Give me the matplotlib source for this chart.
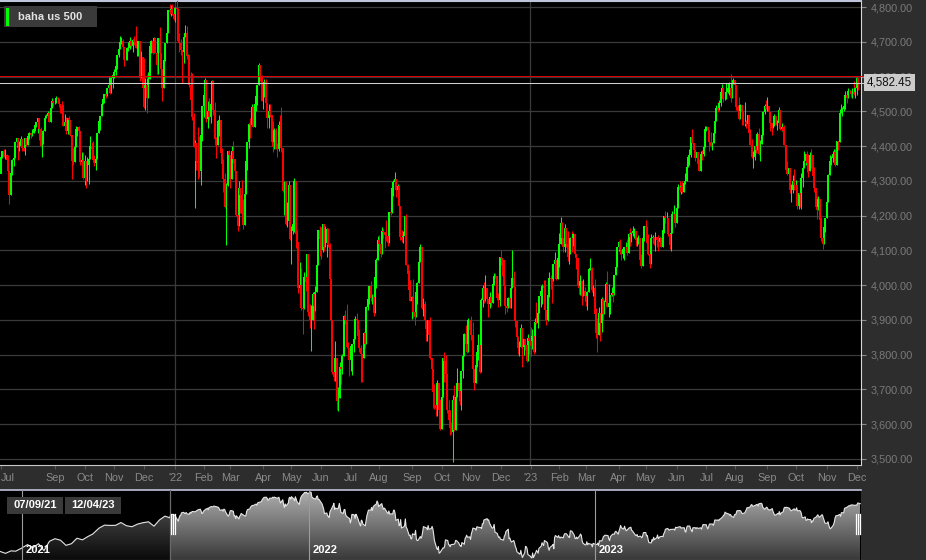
#US 500 daily chart with navigator strip

#Importing the modules to be used
import numpy as np
import pandas as pd
import matplotlib
matplotlib.use('Agg')
import matplotlib.pyplot as plt
import matplotlib.dates as mdates
from matplotlib.patches import Rectangle, Polygon
from matplotlib.lines import Line2D
from matplotlib.colors import LinearSegmentedColormap
from matplotlib.transforms import blended_transform_factory

plt.rcParams['font.family'] = ['Liberation Sans', 'DejaVu Sans']

#Part One: data
title = 'baha us 500'
start_date = '2021-07-09'
end_date = '2023-12-04'
last_price = 4582.45
ref_price = 4602
market_holidays = ['2021-09-06', '2021-11-25', '2021-12-24', '2022-01-17', '2022-02-21',
                   '2022-04-15', '2022-05-30', '2022-06-20', '2022-07-04', '2022-09-05',
                   '2022-11-24', '2022-12-26', '2023-01-02', '2023-01-16', '2023-02-20',
                   '2023-04-07', '2023-05-29', '2023-06-19', '2023-07-04', '2023-09-04',
                   '2023-11-23']

#daily closes, one line per month
close_px = [
    4370, 4385, 4369, 4374, 4360, 4327, 4258, 4323, 4359, 4367, 4412, 4422, 4401, 4401, 4419, 4395,
    4387, 4423, 4403, 4429, 4437, 4432, 4437, 4448, 4461, 4468, 4480, 4448, 4400, 4406, 4442, 4480, 4486, 4496, 4470, 4509, 4529, 4523,
    4524, 4537, 4535, 4520, 4514, 4493, 4459, 4469, 4443, 4481, 4474, 4433, 4358, 4354, 4396, 4449, 4455, 4443, 4353, 4359, 4308,
    4357, 4300, 4346, 4364, 4400, 4391, 4361, 4351, 4364, 4438, 4471, 4486, 4520, 4536, 4550, 4545, 4566, 4575, 4552, 4596, 4605,
    4614, 4631, 4661, 4680, 4698, 4702, 4685, 4647, 4649, 4683, 4683, 4701, 4689, 4705, 4698, 4683, 4691, 4701, 4595, 4655, 4567,
    4513, 4577, 4538, 4592, 4687, 4701, 4667, 4712, 4669, 4634, 4710, 4669, 4621, 4568, 4649, 4697, 4726, 4791, 4786, 4793, 4779, 4766,
    4797, 4794, 4701, 4696, 4677, 4670, 4713, 4726, 4659, 4663, 4577, 4533, 4483, 4398, 4410, 4356, 4350, 4327, 4432, 4516,
    4547, 4589, 4477, 4501, 4484, 4522, 4587, 4504, 4419, 4402, 4471, 4475, 4380, 4349, 4305, 4226, 4289, 4385, 4374,
    4306, 4387, 4363, 4329, 4201, 4171, 4278, 4260, 4204, 4173, 4262, 4358, 4412, 4463, 4461, 4512, 4456, 4520, 4543, 4576, 4632, 4602, 4530,
    4546, 4583, 4525, 4481, 4500, 4488, 4413, 4397, 4447, 4393, 4392, 4462, 4459, 4394, 4272, 4296, 4175, 4184, 4288, 4132,
    4155, 4175, 4300, 4147, 4123, 3991, 4001, 3935, 3930, 4024, 4008, 4089, 3924, 3901, 3901, 3974, 3941, 3979, 4058, 4158, 4132,
    4101, 4177, 4109, 4121, 4161, 4116, 4018, 3901, 3750, 3735, 3790, 3667, 3675, 3765, 3760, 3796, 3912, 3900, 3822, 3819, 3785,
    3825, 3831, 3845, 3903, 3899, 3854, 3819, 3802, 3790, 3863, 3831, 3937, 3960, 3999, 3962, 3967, 3921, 4024, 4072, 4130,
    4119, 4091, 4155, 4152, 4145, 4140, 4122, 4210, 4207, 4280, 4297, 4305, 4274, 4284, 4228, 4138, 4129, 4141, 4199, 4058, 4031, 3986, 3955,
    3967, 3924, 3908, 3980, 4006, 4067, 4110, 3933, 3946, 3901, 3873, 3900, 3856, 3790, 3758, 3693, 3655, 3647, 3719, 3640, 3586,
    3678, 3791, 3783, 3745, 3640, 3612, 3589, 3577, 3670, 3583, 3678, 3720, 3695, 3666, 3753, 3797, 3859, 3831, 3807, 3901, 3872,
    3856, 3760, 3720, 3771, 3807, 3828, 3749, 3956, 3993, 3957, 3992, 3959, 3947, 3965, 3950, 4004, 4027, 4026, 3964, 3958, 4080,
    4077, 4072, 3999, 3941, 3934, 3964, 3934, 3991, 4020, 3995, 3896, 3852, 3818, 3822, 3878, 3822, 3845, 3829, 3783, 3849, 3840,
    3824, 3853, 3808, 3895, 3892, 3919, 3970, 3983, 3999, 3991, 3929, 3899, 3973, 4020, 4017, 4016, 4060, 4071, 4018, 4077,
    4119, 4180, 4136, 4111, 4164, 4118, 4082, 4090, 4137, 4136, 4148, 4090, 4079, 3997, 3991, 4012, 3970, 3982, 3970,
    3951, 3981, 4046, 4048, 3986, 3992, 3918, 3862, 3856, 3919, 3892, 3960, 3917, 3952, 4003, 3937, 3949, 3971, 3978, 3971, 4028, 4051, 4109,
    4125, 4101, 4090, 4105, 4109, 4109, 4092, 4146, 4138, 4151, 4155, 4155, 4130, 4134, 4137, 4072, 4056, 4135, 4169,
    4168, 4120, 4091, 4061, 4136, 4138, 4119, 4138, 4131, 4124, 4136, 4110, 4159, 4198, 4192, 4193, 4146, 4115, 4151, 4205, 4206, 4180,
    4221, 4282, 4274, 4284, 4268, 4294, 4299, 4339, 4369, 4373, 4426, 4410, 4389, 4366, 4382, 4348, 4329, 4378, 4377, 4396, 4450,
    4456, 4447, 4412, 4399, 4410, 4439, 4472, 4510, 4505, 4523, 4555, 4566, 4535, 4536, 4555, 4567, 4567, 4537, 4582, 4589,
    4577, 4513, 4502, 4478, 4518, 4499, 4468, 4469, 4464, 4490, 4438, 4404, 4370, 4370, 4400, 4388, 4436, 4376, 4406, 4433, 4498, 4515, 4508,
    4516, 4497, 4465, 4451, 4457, 4487, 4462, 4467, 4505, 4450, 4454, 4444, 4402, 4330, 4320, 4337, 4274, 4275, 4300, 4288,
    4288, 4229, 4264, 4258, 4309, 4336, 4358, 4377, 4350, 4328, 4374, 4373, 4315, 4278, 4224, 4217, 4248, 4187, 4137, 4117, 4167, 4194,
    4238, 4318, 4358, 4366, 4378, 4383, 4347, 4415, 4412, 4496, 4503, 4508, 4514, 4547, 4538, 4557, 4559, 4550, 4555, 4551, 4568,
    4595, 4582,
]

high_px = [
    4372, 4386, 4393, 4393, 4376, 4375, 4296, 4337, 4364, 4370, 4412, 4422, 4416, 4416, 4430, 4413,
    4422, 4423, 4416, 4429, 4441, 4439, 4450, 4449, 4462, 4468, 4480, 4470, 4454, 4418, 4445, 4489, 4492, 4502, 4499, 4513, 4537, 4531,
    4533, 4545, 4540, 4536, 4519, 4530, 4521, 4492, 4485, 4481, 4486, 4471, 4433, 4394, 4416, 4457, 4456, 4457, 4443, 4382, 4382,
    4375, 4356, 4369, 4366, 4429, 4412, 4415, 4374, 4373, 4439, 4475, 4487, 4520, 4540, 4551, 4560, 4568, 4599, 4584, 4598, 4608,
    4621, 4635, 4663, 4683, 4718, 4714, 4708, 4684, 4664, 4684, 4698, 4714, 4702, 4708, 4717, 4744, 4692, 4702, 4701, 4673, 4655,
    4653, 4595, 4608, 4613, 4695, 4706, 4705, 4713, 4711, 4665, 4712, 4743, 4666, 4621, 4650, 4697, 4741, 4791, 4808, 4805, 4808, 4787,
    4800, 4819, 4798, 4726, 4708, 4674, 4714, 4749, 4744, 4666, 4663, 4612, 4611, 4495, 4418, 4408, 4454, 4429, 4432, 4516,
    4550, 4596, 4589, 4529, 4539, 4531, 4591, 4589, 4527, 4427, 4473, 4490, 4475, 4395, 4364, 4324, 4294, 4385, 4389,
    4375, 4401, 4416, 4363, 4328, 4277, 4300, 4278, 4303, 4247, 4272, 4358, 4412, 4465, 4482, 4522, 4512, 4521, 4546, 4576, 4638, 4632, 4604,
    4549, 4593, 4594, 4525, 4521, 4521, 4488, 4471, 4453, 4451, 4410, 4471, 4489, 4513, 4394, 4300, 4296, 4240, 4300, 4288,
    4169, 4200, 4308, 4300, 4158, 4123, 4066, 4050, 3964, 4039, 4047, 4090, 4089, 3946, 3944, 3981, 3974, 3999, 4076, 4158, 4169,
    4166, 4177, 4177, 4169, 4165, 4164, 4120, 4018, 3901, 3778, 3838, 3790, 3708, 3779, 3801, 3802, 3913, 3928, 3945, 3837, 3819,
    3829, 3832, 3886, 3910, 3919, 3899, 3874, 3829, 3802, 3864, 3903, 3939, 3975, 3999, 4013, 3975, 3967, 4039, 4079, 4140,
    4144, 4141, 4168, 4161, 4152, 4187, 4140, 4211, 4257, 4280, 4302, 4325, 4305, 4292, 4284, 4228, 4160, 4156, 4200, 4204, 4062, 4044, 4016,
    3970, 4018, 3942, 3987, 4010, 4077, 4119, 4110, 3962, 3954, 3901, 3900, 3900, 3907, 3790, 3758, 3716, 3718, 3727, 3719, 3672,
    3695, 3791, 3807, 3798, 3745, 3670, 3641, 3606, 3685, 3712, 3689, 3762, 3720, 3736, 3754, 3801, 3862, 3886, 3860, 3905, 3901,
    3911, 3894, 3760, 3786, 3813, 3860, 3828, 3962, 4000, 4008, 4029, 3992, 3959, 3979, 3965, 4006, 4034, 4035, 4026, 3976, 4080,
    4101, 4077, 4072, 4001, 3951, 3966, 3977, 3991, 4101, 4040, 3995, 3896, 3854, 3839, 3889, 3878, 3846, 3846, 3848, 3859, 3849,
    3879, 3874, 3853, 3906, 3951, 3919, 3970, 3997, 4003, 4015, 4015, 3929, 3973, 4039, 4028, 4020, 4061, 4095, 4071, 4077,
    4149, 4195, 4183, 4136, 4177, 4164, 4157, 4095, 4139, 4156, 4149, 4148, 4090, 4079, 4004, 4029, 4012, 4018, 3994,
    3972, 3983, 4048, 4079, 4051, 4000, 4018, 3934, 3906, 3937, 3919, 3965, 3960, 3957, 4010, 4040, 4003, 3973, 3996, 3980, 4030, 4055, 4110,
    4126, 4134, 4101, 4108, 4110, 4125, 4134, 4150, 4163, 4152, 4170, 4163, 4155, 4139, 4143, 4137, 4089, 4139, 4170,
    4186, 4168, 4148, 4091, 4147, 4143, 4138, 4154, 4138, 4143, 4139, 4136, 4164, 4199, 4213, 4210, 4193, 4146, 4165, 4213, 4231, 4206,
    4232, 4291, 4299, 4289, 4299, 4299, 4323, 4339, 4375, 4391, 4427, 4448, 4410, 4390, 4382, 4382, 4362, 4385, 4390, 4399, 4458,
    4457, 4456, 4447, 4441, 4413, 4443, 4489, 4517, 4528, 4532, 4562, 4578, 4566, 4555, 4580, 4580, 4583, 4607, 4590, 4595,
    4589, 4577, 4519, 4540, 4520, 4518, 4502, 4527, 4476, 4490, 4490, 4450, 4421, 4386, 4401, 4420, 4440, 4452, 4418, 4439, 4501, 4521, 4532,
    4541, 4516, 4497, 4465, 4473, 4491, 4487, 4474, 4511, 4505, 4467, 4454, 4462, 4402, 4357, 4338, 4337, 4292, 4317, 4333,
    4301, 4288, 4264, 4268, 4324, 4336, 4385, 4378, 4385, 4377, 4383, 4393, 4373, 4339, 4278, 4255, 4255, 4248, 4196, 4156, 4178, 4194,
    4246, 4319, 4374, 4372, 4387, 4391, 4393, 4415, 4415, 4508, 4521, 4511, 4520, 4557, 4547, 4568, 4560, 4559, 4568, 4587, 4570,
    4599, 4595,
]

low_px = [
    4329, 4365, 4368, 4362, 4338, 4323, 4233, 4258, 4316, 4343, 4367, 4398, 4360, 4387, 4401, 4386,
    4385, 4373, 4399, 4403, 4419, 4424, 4430, 4437, 4442, 4456, 4438, 4417, 4398, 4368, 4405, 4442, 4480, 4486, 4468, 4470, 4509, 4515,
    4522, 4524, 4524, 4513, 4494, 4493, 4457, 4445, 4435, 4435, 4447, 4428, 4306, 4347, 4354, 4396, 4430, 4437, 4346, 4353, 4306,
    4288, 4279, 4300, 4292, 4364, 4387, 4360, 4342, 4330, 4364, 4438, 4447, 4486, 4520, 4524, 4538, 4545, 4566, 4551, 4552, 4568,
    4595, 4604, 4621, 4656, 4680, 4694, 4671, 4631, 4647, 4649, 4673, 4679, 4684, 4672, 4691, 4681, 4659, 4659, 4586, 4595, 4560,
    4510, 4505, 4495, 4538, 4592, 4667, 4665, 4667, 4667, 4608, 4607, 4652, 4600, 4531, 4568, 4645, 4697, 4726, 4781, 4775, 4776, 4764,
    4758, 4775, 4700, 4671, 4663, 4582, 4638, 4713, 4651, 4614, 4571, 4531, 4474, 4396, 4223, 4330, 4305, 4310, 4288, 4415,
    4483, 4547, 4470, 4451, 4474, 4465, 4522, 4488, 4402, 4365, 4402, 4430, 4374, 4327, 4267, 4222, 4115, 4286, 4318,
    4279, 4306, 4351, 4285, 4199, 4157, 4171, 4208, 4200, 4162, 4173, 4262, 4330, 4394, 4424, 4461, 4456, 4456, 4501, 4518, 4576, 4588, 4530,
    4507, 4542, 4516, 4451, 4451, 4484, 4411, 4382, 4393, 4392, 4368, 4387, 4448, 4384, 4268, 4201, 4173, 4167, 4184, 4130,
    4062, 4147, 4153, 4107, 4078, 3976, 3959, 3928, 3859, 3930, 3983, 4008, 3912, 3878, 3811, 3901, 3875, 3925, 3979, 4058, 4084,
    4074, 4096, 4097, 4109, 4081, 4111, 4017, 3900, 3745, 3725, 3723, 3640, 3639, 3675, 3717, 3744, 3796, 3889, 3820, 3800, 3738,
    3752, 3743, 3809, 3845, 3871, 3847, 3809, 3722, 3721, 3790, 3818, 3831, 3929, 3946, 3955, 3946, 3911, 3921, 3992, 4072,
    4097, 4080, 4091, 4136, 4107, 4128, 4112, 4122, 4201, 4207, 4256, 4278, 4253, 4263, 4219, 4131, 4124, 4120, 4141, 4058, 4017, 3965, 3955,
    3904, 3907, 3886, 3907, 3945, 4006, 4067, 3932, 3912, 3889, 3838, 3838, 3831, 3789, 3749, 3648, 3645, 3624, 3623, 3610, 3584,
    3586, 3678, 3722, 3744, 3633, 3591, 3568, 3571, 3492, 3580, 3583, 3678, 3667, 3656, 3640, 3733, 3797, 3824, 3804, 3807, 3863,
    3843, 3759, 3699, 3718, 3764, 3786, 3747, 3749, 3937, 3950, 3954, 3955, 3907, 3934, 3940, 3950, 4001, 4020, 3956, 3937, 3939,
    4058, 4027, 3984, 3918, 3923, 3934, 3934, 3934, 3991, 3966, 3879, 3827, 3803, 3796, 3822, 3765, 3798, 3813, 3780, 3783, 3803,
    3795, 3815, 3802, 3808, 3887, 3877, 3919, 3937, 3947, 3984, 3926, 3885, 3897, 3966, 3990, 3949, 4013, 4049, 4015, 4018,
    4051, 4119, 4125, 4094, 4096, 4111, 4070, 4060, 4090, 4096, 4114, 4089, 4047, 3995, 3975, 3972, 3943, 3970, 3969,
    3940, 3929, 3981, 4044, 3981, 3970, 3917, 3847, 3809, 3856, 3839, 3864, 3901, 3917, 3952, 3936, 3909, 3918, 3970, 3951, 3971, 4028, 4051,
    4099, 4089, 4072, 4077, 4073, 4100, 4086, 4092, 4114, 4124, 4140, 4136, 4114, 4113, 4117, 4072, 4049, 4056, 4128,
    4164, 4100, 4088, 4048, 4061, 4123, 4115, 4098, 4109, 4099, 4114, 4109, 4110, 4150, 4180, 4187, 4142, 4103, 4099, 4151, 4192, 4166,
    4180, 4221, 4267, 4262, 4264, 4268, 4292, 4299, 4339, 4347, 4368, 4408, 4378, 4357, 4351, 4341, 4328, 4329, 4361, 4372, 4396,
    4443, 4437, 4385, 4398, 4389, 4410, 4439, 4472, 4498, 4504, 4514, 4555, 4527, 4532, 4536, 4553, 4548, 4528, 4537, 4579,
    4568, 4505, 4485, 4474, 4478, 4462, 4461, 4458, 4453, 4453, 4432, 4404, 4365, 4336, 4360, 4381, 4388, 4375, 4356, 4406, 4432, 4493, 4507,
    4502, 4492, 4443, 4431, 4451, 4457, 4461, 4446, 4467, 4447, 4443, 4417, 4402, 4330, 4316, 4302, 4265, 4239, 4264, 4274,
    4260, 4220, 4220, 4226, 4219, 4283, 4336, 4345, 4325, 4312, 4328, 4338, 4309, 4269, 4224, 4190, 4217, 4181, 4128, 4104, 4117, 4154,
    4192, 4238, 4318, 4347, 4355, 4368, 4344, 4347, 4389, 4411, 4496, 4487, 4501, 4506, 4525, 4538, 4553, 4541, 4538, 4547, 4537,
    4547, 4560,
]

#weekly closes before the visible window (only shown in the navigator strip)
pre_dates = ['2020-12-04', '2020-12-11', '2020-12-18', '2020-12-24', '2020-12-31', '2021-01-08',
             '2021-01-15', '2021-01-22', '2021-01-29', '2021-02-05', '2021-02-12', '2021-02-19',
             '2021-02-26', '2021-03-05', '2021-03-12', '2021-03-19', '2021-03-26', '2021-04-01',
             '2021-04-09', '2021-04-16', '2021-04-23', '2021-04-30', '2021-05-07', '2021-05-14',
             '2021-05-21', '2021-05-28', '2021-06-04', '2021-06-11', '2021-06-18', '2021-06-25',
             '2021-07-02', '2021-07-08']
pre_close = [3699, 3663, 3709, 3703, 3756, 3824, 3768, 3841, 3714, 3887, 3934, 3906,
             3811, 3842, 3943, 3913, 3975, 4020, 4129, 4185, 4180, 4181, 4233, 4174,
             4156, 4204, 4230, 4247, 4166, 4281, 4352, 4321]

#Part Two: preparing the series
dates = pd.bdate_range(start_date, end_date, freq='C', holidays=market_holidays)
n = min(len(dates), len(close_px), len(high_px), len(low_px))
dates = dates[:n]
close = np.array(close_px[:n], dtype=float)
high = np.array(high_px[:n], dtype=float)
low = np.array(low_px[:n], dtype=float)
idx = np.arange(n)
#the CFD trades round the clock, so each bar opens at the previous close
prev = np.concatenate([[pre_close[-1]], close[:-1]])
up = close >= prev

#month ticks (first bar of every month)
month_idx = [0]
for i in range(1, n):
    if dates[i].month != dates[i - 1].month:
        month_idx.append(i)
ticks, labels = [], []
for i in month_idx:
    if ticks and i - ticks[-1] < 18:
        continue
    ticks.append(i)
    d = dates[i]
    labels.append("'" + d.strftime('%y') if d.month == 1 else d.strftime('%b'))
year_idx = [i for i in month_idx if dates[i].month == 1]

#Part Three: drawing
W, H = 926, 560
def fx(px):
    return px / W
def fy(py):
    return 1 - py / H

fig = plt.figure(figsize=(W / 100, H / 100), dpi=100, facecolor='#2d2d2d')

#main price panel
ax = fig.add_axes([0, fy(465), fx(861), 464 / H])
ax.set_facecolor('black')
px_per_bar = 857 / (n - 1)
ax.set_xlim(-1 / px_per_bar, (n - 1) + 3 / px_per_bar)
ax.set_ylim(3500 - 6 / 0.34769, 4800 + 6 / 0.34769)

yt = list(range(3500, 4801, 100))
ax.set_yticks(yt)
ax.set_yticklabels([f'{v:,.2f}' for v in yt])
ax.yaxis.tick_right()
ax.grid(axis='y', color='#3a3a3a', lw=0.9)
for i in year_idx:
    ax.axvline(i - 0.5, color='#3a3a3a', lw=0.9)

#wicks (low to high) and bodies (open to close)
ax.vlines(idx[up], low[up], high[up], color='#00ff00', lw=0.75, zorder=3)
ax.vlines(idx[~up], low[~up], high[~up], color='#ff0000', lw=0.75, zorder=3)
ax.vlines(idx[up], prev[up], close[up], color='#00ff00', lw=1.45, zorder=3)
ax.vlines(idx[~up], close[~up], prev[~up], color='#ff0000', lw=1.45, zorder=3)

ax.set_xticks(ticks)
ax.set_xticklabels(labels)
ax.get_xticklabels()[0].set_horizontalalignment('left')
ax.tick_params(axis='x', length=3, color='#555555', labelcolor='#8a8a8a', labelsize=7.8, pad=3)
ax.tick_params(axis='y', length=3.5, color='#8a8a8a', labelcolor='#7a7a7a', labelsize=7.8, pad=3.5)

ax.spines['left'].set_visible(False)
ax.spines['top'].set_color('#c0c4da')
ax.spines['top'].set_linewidth(1.5)
ax.spines['right'].set_color('#d8d8d8')
ax.spines['bottom'].set_color('#c8c8c8')

#reference lines and last price tag
ax.axhline(ref_price, color='#dd0000', lw=0.75, xmax=1.007, clip_on=False, zorder=4)
ax.axhline(last_price, color='#cfcfcf', lw=0.75, xmax=1.007, clip_on=False, zorder=4)
tr = blended_transform_factory(ax.transAxes, ax.transData)
ax.text(867 / 861, last_price, f'{last_price:,.2f}', transform=tr, ha='left', va='center',
        fontsize=8.3, color='#111111', clip_on=False, zorder=10,
        bbox=dict(boxstyle='square,pad=0.22', fc='#cbcbcb', ec='none'))

#title box
fig.patches.append(Rectangle((fx(4), fy(27)), 93 / W, 21 / H, transform=fig.transFigure,
                             fc='#3a3a3a', ec='none', zorder=5))
fig.patches.append(Rectangle((fx(6), fy(26)), 3 / W, 18 / H, transform=fig.transFigure,
                             fc='#00ff00', ec='none', zorder=6))
fig.text(fx(18), fy(17), title, ha='left', va='center', fontsize=8, fontweight='bold',
         color='#e2e2e2', zorder=7)

#navigator strip
nav = fig.add_axes([0, 0, fx(861), 70 / H])
nav.set_facecolor('black')
nav_lo, nav_hi = 3540, 4835
pre_x = mdates.date2num(pd.to_datetime(pre_dates))
win_x = mdates.date2num(dates)
all_x = np.concatenate([pre_x, win_x])
all_y = np.concatenate([pre_close, close])
n_pre = len(pre_x)

def grad_fill(axn, xs, ys, c_top, c_bot):
    verts = [(xs[0], nav_lo)] + list(zip(xs, ys)) + [(xs[-1], nav_lo)]
    poly = Polygon(verts, closed=True, fc='none', ec='none')
    axn.add_patch(poly)
    cmap = LinearSegmentedColormap.from_list('g', [c_bot, c_top])
    grad = np.linspace(1, 0, 200).reshape(-1, 1)
    im = axn.imshow(grad, cmap=cmap, aspect='auto', origin='upper', zorder=1,
                    extent=[xs[0], xs[-1], nav_lo, nav_hi])
    im.set_clip_path(poly)

grad_fill(nav, all_x[:n_pre + 1], all_y[:n_pre + 1], '#5c5c5c', '#0a0a0a')
grad_fill(nav, win_x, close, '#b0b0b0', '#383838')
nav.plot(all_x, all_y, color='#e6e6e6', lw=0.8, zorder=3)

nav.set_xlim(mdates.date2num(pd.Timestamp('2020-12-04')), mdates.date2num(pd.Timestamp('2023-12-05')))
nav.set_ylim(nav_lo, nav_hi)
nav.set_xticks([])
nav.set_yticks([])
for s in ['left', 'right']:
    nav.spines[s].set_visible(False)
nav.spines['top'].set_color('#c0c4da')
nav.spines['top'].set_linewidth(1.2)
nav.spines['bottom'].set_color('#a0a0a0')

nav.axvline(win_x[0], color='#6a6a6a', lw=0.9, zorder=4)
for yr in ['2021', '2022', '2023']:
    xd = mdates.date2num(pd.Timestamp(yr + '-01-01'))
    nav.axvline(xd, color='#9c9c9c', lw=0.8, zorder=4)
    nav.annotate(yr, xy=(xd, 0), xycoords=('data', 'axes fraction'), xytext=(2.5, 3.5),
                 textcoords='offset points', ha='left', va='bottom', fontsize=8,
                 fontweight='bold', color='white', zorder=5)

#selection handles
for hx in [170.5, 172.5, 174.5, 855.5, 857.5, 859.5]:
    fig.add_artist(Line2D([fx(hx), fx(hx)], [fy(514), fy(534)], color='white', lw=0.9))

#date boxes
for bx, txt in [(7, dates[0].strftime('%m/%d/%y')), (65, dates[-1].strftime('%m/%d/%y'))]:
    fig.patches.append(Rectangle((fx(bx), fy(514)), 56 / W, 17 / H, transform=fig.transFigure,
                                 fc='#3a3a3a', ec='none', zorder=5))
    fig.text(fx(bx + 28), fy(505.5), txt, ha='center', va='center', fontsize=8,
             fontweight='bold', color='white', zorder=6)

fig.savefig('out.png', dpi=100, facecolor=fig.get_facecolor())
